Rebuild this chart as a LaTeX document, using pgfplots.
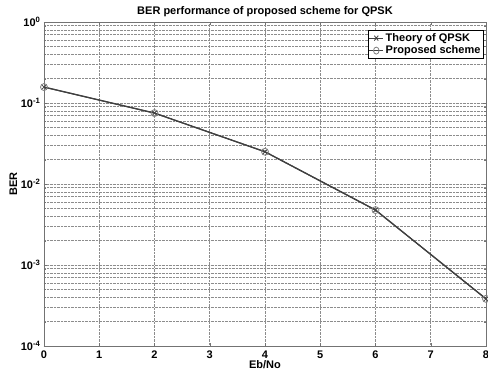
\documentclass[border=0pt]{standalone}
\usepackage{pgfplots}
\pgfplotsset{compat=1.18}
\usepackage{fontspec}
\setmainfont{Liberation Sans}
\definecolor{axgray}{gray}{0.45}
\definecolor{gridgray}{gray}{0.55}
\definecolor{linegray}{gray}{0.25}
\begin{document}
\begin{tikzpicture}
\useasboundingbox (-44pt,-30pt) rectangle (444pt,346pt);
\begin{axis}[
  at={(0pt,0pt)}, anchor=south west,
  scale only axis, width=442pt, height=324pt,
  ymode=log,
  xmin=0, xmax=8, ymin=1e-4, ymax=1,
  xtick={0,1,...,8},
  ytick={1e-4,1e-3,1e-2,1e-1,1},
  yticklabels={10\textsuperscript{-4},10\textsuperscript{-3},10\textsuperscript{-2},10\textsuperscript{-1},10\textsuperscript{0}},
  /pgf/number format/assume math mode=true,
  tick label style={font=\fontsize{11}{13}\selectfont\bfseries, text=black},
  xticklabel style={yshift=-1pt},
  grid=both,
  major grid style={gridgray, densely dotted, line width=0.5pt},
  minor grid style={gridgray, densely dotted, line width=0.5pt},
  axis line style={axgray, line width=0.8pt},
  tick style={axgray},
  major tick length=3pt, minor tick length=2pt,
  title={BER performance of proposed scheme for QPSK},
  title style={font=\fontsize{11}{13}\selectfont\bfseries, yshift=-4pt},
  xlabel={Eb/No},
  ylabel={BER},
  xlabel style={font=\fontsize{11}{13}\selectfont\bfseries, yshift=5pt},
  ylabel style={font=\fontsize{11}{13}\selectfont\bfseries, yshift=-3pt},
  legend style={font=\fontsize{11}{13}\selectfont\bfseries, draw=black, line width=0.6pt, inner sep=1pt, row sep=-1pt, at={(0.995,0.975)}, anchor=north east},
  legend cell align=left,
  legend image post style={xscale=0.8},
]
\addplot[linegray, line width=1.2pt, mark=x, mark size=3.5pt, mark options={solid, linegray, line width=0.8pt}]
  coordinates {(0,0.1573) (2,0.0751) (4,0.0250) (6,0.00477) (8,0.000382)};
\addlegendentry{Theory of QPSK}
\addplot[linegray, line width=1.2pt, mark=o, mark size=3.5pt, mark options={solid, gray, line width=0.8pt}]
  coordinates {(0,0.1573) (2,0.0751) (4,0.0250) (6,0.00477) (8,0.000382)};
\addlegendentry{Proposed scheme}
\end{axis}
\end{tikzpicture}
\end{document}
